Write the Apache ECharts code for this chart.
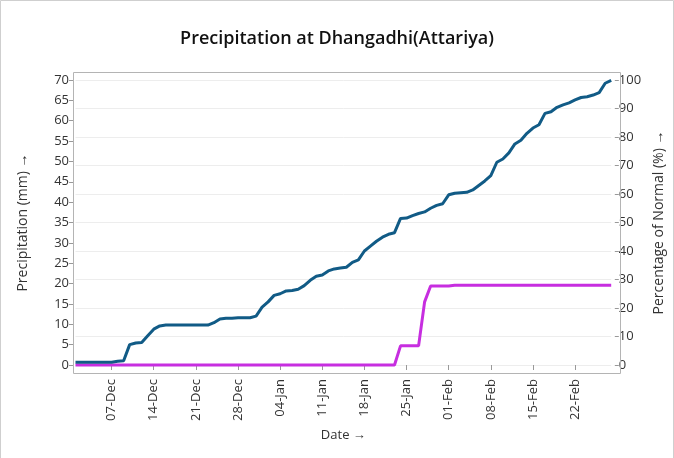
<!DOCTYPE html>
<html>
<head>
<meta charset="utf-8">
<script src="https://cdn.jsdelivr.net/npm/echarts@6/dist/echarts.min.js"></script>
<style>
  html, body { margin: 0; padding: 0; background: #fff; }
  #chart { width: 674px; height: 458px; }
</style>
</head>
<body>
<div id="chart"></div>
<script>
// 01-Dec .. 28-Feb, one category per day
const months = ["Dec", "Jan", "Feb"];
const monthDays = [31, 31, 28];
const dates = [];
months.forEach((m, i) => {
  for (let d = 1; d <= monthDays[i]; d++) {
    dates.push(String(d).padStart(2, "0") + "-" + m);
  }
});

const tickDates = ["07-Dec", "14-Dec", "21-Dec", "28-Dec", "04-Jan", "11-Jan",
  "18-Jan", "25-Jan", "01-Feb", "08-Feb", "15-Feb", "22-Feb"];

// cumulative normal precipitation (mm)
const normal = [
  0.7, 0.7, 0.7, 0.7, 0.7, 0.7, 0.7, 0.9, 1.05, 5.0,
  5.4, 5.5, 7.2, 8.8, 9.6, 9.8, 9.8, 9.8, 9.8, 9.8,
  9.8, 9.8, 9.8, 10.4, 11.3, 11.5, 11.5, 11.6, 11.6, 11.6,
  12.0, 14.2, 15.5, 17.1, 17.5, 18.2, 18.3, 18.6, 19.5, 20.8,
  21.8, 22.1, 23.1, 23.6, 23.8, 24.0, 25.2, 25.8, 28.0, 29.2,
  30.4, 31.4, 32.1, 32.5, 36.0, 36.1, 36.7, 37.2, 37.6, 38.5,
  39.2, 39.6, 41.8, 42.2, 42.3, 42.4, 43.0, 44.1, 45.2, 46.5,
  49.8, 50.6, 52.1, 54.3, 55.2, 56.9, 58.2, 59.0, 61.8, 62.2,
  63.3, 63.9, 64.4, 65.1, 65.7, 65.9, 66.3, 66.9, 69.2, 69.9
];

// cumulative actual precipitation (mm)
const actual = [
  0, 0, 0, 0, 0, 0, 0, 0, 0, 0,
  0, 0, 0, 0, 0, 0, 0, 0, 0, 0,
  0, 0, 0, 0, 0, 0, 0, 0, 0, 0,
  0, 0, 0, 0, 0, 0, 0, 0, 0, 0,
  0, 0, 0, 0, 0, 0, 0, 0, 0, 0,
  0, 0, 0, 0, 4.7, 4.7, 4.7, 4.7, 15.5, 19.4,
  19.4, 19.4, 19.4, 19.6, 19.6, 19.6, 19.6, 19.6, 19.6, 19.6,
  19.6, 19.6, 19.6, 19.6, 19.6, 19.6, 19.6, 19.6, 19.6, 19.6,
  19.6, 19.6, 19.6, 19.6, 19.6, 19.6, 19.6, 19.6, 19.6, 19.6
];

const font = "'Open Sans', 'Noto Sans', sans-serif";
const isTick = (i, v) => tickDates.includes(v);

const chart = echarts.init(document.getElementById("chart"));
chart.setOption({
  animation: false,
  textStyle: { fontFamily: font },
  title: {
    text: "Precipitation at Dhangadhi(Attariya)",
    left: "center",
    top: 25,
    textStyle: { fontSize: 18, fontWeight: 600, color: "#111", fontFamily: font }
  },
  grid: { left: 75.5, right: 57.6, top: 80, bottom: 93 },
  graphic: [
    {
      type: "rect", silent: true, z: 100,
      shape: { x: 0.5, y: 0.5, width: 673, height: 460 },
      style: { fill: null, stroke: "#cfcfcf", lineWidth: 1 }
    },
    {
      type: "rect", silent: true, z: 100,
      shape: { x: 73.5, y: 72.5, width: 547, height: 301 },
      style: { fill: null, stroke: "#b4b4b4", lineWidth: 1 }
    }
  ],
  xAxis: {
    type: "category",
    data: dates,
    boundaryGap: false,
    offset: 8,
    axisLine: { show: false },
    axisTick: { interval: isTick, length: 5, lineStyle: { color: "#999" } },
    axisLabel: { interval: isTick, rotate: 90, fontSize: 13, color: "#333", margin: 6 },
    name: "Date →",
    nameLocation: "middle",
    nameGap: 50,
    nameTextStyle: { fontSize: 13, color: "#333" }
  },
  yAxis: [
    {
      type: "value",
      min: 0,
      max: 70,
      interval: 5,
      offset: 2.5,
      axisLine: { show: false },
      splitLine: { show: false },
      axisTick: { show: true, length: 4, lineStyle: { color: "#999" } },
      axisLabel: { fontSize: 13, color: "#333", margin: 4 },
      name: "Precipitation (mm) →",
      nameLocation: "middle",
      nameRotate: 90,
      nameGap: 43,
      nameTextStyle: { fontSize: 14, color: "#333" }
    },
    {
      type: "value",
      position: "right",
      min: 0,
      max: 100,
      interval: 10,
      offset: 3.6,
      axisLine: { show: false },
      splitLine: { show: true, lineStyle: { color: "#ededed" } },
      axisTick: { show: true, length: 4, lineStyle: { color: "#999" } },
      axisLabel: { fontSize: 13, color: "#333", margin: 4 },
      name: "Percentage of Normal (%) →",
      nameLocation: "middle",
      nameRotate: 90,
      nameGap: 36,
      nameTextStyle: { fontSize: 14, color: "#333" }
    }
  ],
  series: [
    {
      name: "Actual",
      type: "line",
      yAxisIndex: 0,
      data: actual,
      showSymbol: false,
      clip: false,
      lineStyle: { width: 3, color: "#c72ee0" },
      itemStyle: { color: "#c72ee0" }
    },
    {
      name: "Normal",
      type: "line",
      yAxisIndex: 0,
      data: normal,
      showSymbol: false,
      clip: false,
      lineStyle: { width: 3, color: "#115b86" },
      itemStyle: { color: "#115b86" }
    }
  ]
});
</script>
</body>
</html>
